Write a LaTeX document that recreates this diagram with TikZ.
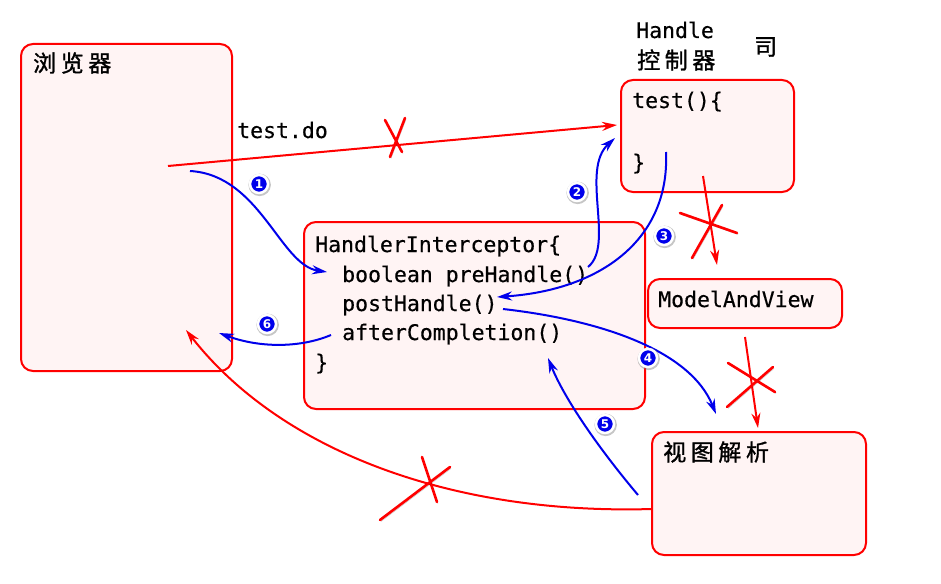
\documentclass[tikz,border=0pt]{standalone}
\usepackage{fontspec}
\setmonofont[FakeBold=0.4]{DejaVu Sans Mono}
\newfontfamily\cjkfont[LetterSpace=20,FakeBold=1.2]{Noto Sans CJK SC}
\newfontfamily\numfont{DejaVu Sans}
\usetikzlibrary{arrows.meta,shadows}
\definecolor{boxfill}{RGB}{255,244,244}
\definecolor{flowblue}{RGB}{0,0,235}
\begin{document}
\begin{tikzpicture}
[x=1pt,y=-1pt,
  boxdecorate/.style={draw=red,line width=2pt,fill=boxfill,rounded corners=12pt,
    anchor=north west,inner sep=0pt},
  codedecorate/.style={anchor=base west,inner sep=0pt,
    font=\ttfamily\fontsize{21.5}{26}\selectfont},
  cjkdecorate/.style={anchor=west,inner sep=0pt,font=\cjkfont\fontsize{23}{28}\selectfont},
  numdecorate/.style={circle,fill=flowblue,draw=white,line width=2.5pt,minimum size=18pt,
    inner sep=0pt,text=white,font=\numfont\bfseries\fontsize{12}{12}\selectfont,
    drop shadow={opacity=0.45,shadow xshift=0.5pt,shadow yshift=-0.7pt,shadow scale=1.25}},
  blueline/.style={draw=flowblue,line width=2pt,-{Stealth[length=15pt,width=9pt]}},
  redline/.style={draw=red,line width=2pt,-{Stealth[length=15pt,width=9pt]}},
  crossdecorate/.style={draw=red,line width=2.6pt,line cap=round,
    preaction={draw=black,opacity=0.25,transform canvas={xshift=1pt,yshift=-1.5pt}}}]
\useasboundingbox (0,0) rectangle (941,583);
%% boxes
\foreach \boxname/\x/\y/\w/\h in {browser/20/43/211/327, handler/620/79/173/112,
  interceptor/303/221/341/187, mav/647/278/194/49, view/651/431/214/123} {
  \node (\boxname) at (\x,\y) [boxdecorate,minimum width=\w pt,minimum height=\h pt] {};
}
%% texts
\foreach \nodename/\x/\y/\txt in {req/237/138/test.do, hname/636/38/Handle,
  testopen/632/108/test()\{, testclose/632/170/\},
  icname/315/252/HandlerInterceptor\{, pre/342/282/boolean preHandle(),
  post/342/311/postHandle(), after/342/340/afterCompletion(), icclose/315/370/\},
  mavname/658/307/ModelAndView} {
  \node (\nodename) at (\x,\y) [codedecorate] {\txt};
}
\foreach \nodename/\x/\y/\txt in {browsername/33/63/浏览器, hctrl/637/60/控制器,
  hsi/754/47/司, viewname/663/452/视图解析} {
  \node (\nodename) at (\x,\y) [cjkdecorate] {\txt};
}
%% end points
\foreach \pname/\x/\y in {reqstart/168/166, reqend/617/125, s1/190/171, e1/327/272,
  s2/588/267, e2/615/138, s3/666/152, e3/497/297, s4/503/309, e4/716/414,
  s5/638/495, e5/548/358, s6/331/335, e6/219/333, mavin/703/176, mavtip/717/265,
  viewin/745/337, viewtip/758/428, backstart/652/509, backend/186/330} {
  \coordinate (\pname) at (\x,\y);
}
%% connectors
\draw[redline] (reqstart) -- (reqend);
\draw[redline] (mavin) -- (mavtip);
\draw[redline] (viewin) -- (viewtip);
\draw[redline] (backstart) .. controls (450,515) and (280,450) .. (backend);
\draw[blueline] (s1) .. controls (260,175) and (280,265) .. (e1);
\draw[blueline] (s2) .. controls (615,245) and (580,170) .. (e2);
\draw[blueline] (s3) .. controls (670,240) and (600,290) .. (e3);
\draw[blueline] (s4) .. controls (600,320) and (690,350) .. (e4);
\draw[blueline] (s5) .. controls (600,450) and (565,400) .. (e5);
\draw[blueline] (s6) .. controls (300,348) and (260,348) .. (e6);
%% crosses
\foreach \ax/\ay/\bx/\by in {385/120/402/152, 405/118/390/157, 680/213/737/233,
  722/205/692/258, 728/363/775/392, 773/367/727/407, 422/457/437/502, 450/467/380/520} {
  \draw[crossdecorate] (\ax,\ay) -- (\bx,\by);
}
%% step numbers
\foreach \num/\x/\y in {1/259/184, 2/577/192, 3/664/236, 4/648/358, 5/605/424, 6/267/324} {
  \node (n\num) at (\x,\y) [numdecorate] {\num};
}
\end{tikzpicture}
\end{document}
